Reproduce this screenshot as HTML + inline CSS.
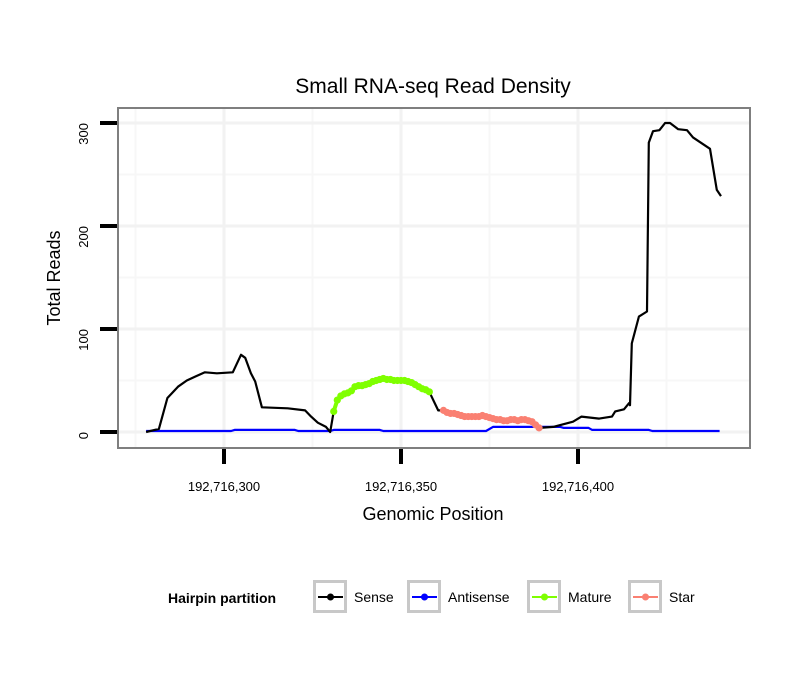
<!DOCTYPE html>
<html><head><meta charset="utf-8"><style>
body{margin:0;background:#fff;}
svg text{font-family:"Liberation Sans",sans-serif;}
</style></head><body>
<svg id="chart" width="810" height="690" xmlns="http://www.w3.org/2000/svg">
<rect width="810" height="690" fill="#fff"/>
<text x="433" y="93" text-anchor="middle" font-size="21">Small RNA-seq Read Density</text>
<g id="grid"></g>
<g id="series"></g>
<rect x="118" y="108" width="632" height="340" fill="none" stroke="#7f7f7f" stroke-width="2"/>
<g id="axes"></g>
<text x="433" y="520" text-anchor="middle" font-size="18">Genomic Position</text>
<text transform="translate(60,278) rotate(-90)" text-anchor="middle" font-size="18">Total Reads</text>
<g>
<text x="168" y="603" font-size="14" font-weight="bold">Hairpin partition</text>
<g id="legend-keys"></g>
</g>
</svg>
<script>
const senseX=[278,281.6,284,287,289.5,292,294.6,298,302.5,304.8,306,307.6,308.8,310.7,318,322.9,324.6,326.5,328.8,330,360.5,393,398.6,401,406,409.6,410.5,413,414.4,414.7,415.2,417.2,419.5,420,421.2,423,424.6,426,428.3,430.8,432.5,437.3,439.2,440.4];
const senseY=[0,3,33,44,50,54,58,57,58,75,72,57,49,24,23,21,15,9,5,0,21,5,10,15,13,15,20,22,28,26,86,112,117,281,292,293,300,300,294,293,286,275,235,229];
const matureX=[331,332,333,334,335,336,337,338,339,340,341,342,343,344,345,346,347,348,349,350,351,352,353,354,355,356,357,358];
const matureY=[20,31,35,37,38,40,44,45,45,46,47,49,50,51,52,51,51,50,50,50,50,49,48,46,44,42,41,39];
const starX=[362,363,364,365,366,367,368,369,370,371,372,373,374,375,376,377,378,379,380,381,382,383,384,385,386,387,388,389];
const starY=[21,19,18,18,17,16,15,15,15,15,15,16,15,14,13,12,12,11,11,12,12,11,12,12,11,10,7,4];
const antiX=[278,302,303,320,321,330,331,344,345,374,376,395,396,398,399,403,404,420,421,440];
const antiY=[1,1,2,2,1,1,2,2,1,1,5,5,4,4,4,4,2,2,1,1];
const xTicks=[300,350,400];
const xTickLabels=["192,716,300","192,716,350","192,716,400"];
const yTicks=[0,100,200,300];
const sx=p=>224+(p-300)*3.54;
const sy=v=>432-v*1.03;
const NS="http://www.w3.org/2000/svg";
function mk(parent,tag,attrs){const e=document.createElementNS(NS,tag);for(const k in attrs)e.setAttribute(k,attrs[k]);parent.appendChild(e);return e;}
const grid=document.getElementById('grid'),ser=document.getElementById('series'),axes=document.getElementById('axes');
[275,325,375,425].forEach(p=>{const l=mk(grid,'line',{x1:sx(p),x2:sx(p),y1:109,y2:447,stroke:'#f7f7f7','stroke-width':2});

});
[50,150,250].forEach(v=>{const l=mk(grid,'line',{x1:119,x2:749,y1:sy(v),y2:sy(v),stroke:'#f7f7f7','stroke-width':2});

});
xTicks.forEach((p,i)=>{const l=mk(grid,'line',{x1:sx(p),x2:sx(p),y1:109,y2:447,stroke:'#f2f2f2','stroke-width':3});


const t=mk(axes,'line',{x1:sx(p),x2:sx(p),y1:449,y2:464,stroke:'#000','stroke-width':4});


const tx=mk(axes,'text',{x:sx(p),y:491,'text-anchor':'middle','font-size':13});tx.textContent=xTickLabels[i];

});
yTicks.forEach(v=>{const l=mk(grid,'line',{x1:119,x2:749,y1:sy(v),y2:sy(v),stroke:'#f2f2f2','stroke-width':3});


const t=mk(axes,'line',{x1:100,x2:117,y1:sy(v),y2:sy(v),stroke:'#000','stroke-width':4});


const tx=mk(axes,'text',{transform:`translate(88,${sy(v)}) rotate(-90)`,'text-anchor':'end','font-size':13});tx.textContent=v;

});
function line(xs,ys,color,name){const d=xs.map((p,i)=>(i?'L':'M')+sx(p).toFixed(1)+','+sy(ys[i]).toFixed(1)).join('');
const e=mk(ser,'path',{d:d,fill:'none',stroke:color,'stroke-width':2.2,'stroke-linejoin':'round'});

}
function pts(xs,ys,color,name){const d=xs.map((p,i)=>(i?'L':'M')+sx(p).toFixed(1)+','+sy(ys[i]).toFixed(1)).join('');
const e=mk(ser,'path',{d:d,fill:'none',stroke:color,'stroke-width':4,'stroke-linejoin':'round'});


xs.forEach((p,i)=>{const c=mk(ser,'circle',{cx:sx(p),cy:sy(ys[i]),r:3.6,fill:color});

});}
const all=[];
senseX.forEach((p,i)=>all.push([p,senseY[i]]));
matureX.forEach((p,i)=>all.push([p,matureY[i]]));
starX.forEach((p,i)=>all.push([p,starY[i]]));
all.sort((a,b)=>a[0]-b[0]);
line(antiX,antiY,'#0000ff','antisense-line');
line(all.map(a=>a[0]),all.map(a=>a[1]),'#000','sense-line');
pts(matureX,matureY,'#7fff00','mature');
pts(starX,starY,'#fa8072','star');
const lk=document.getElementById('legend-keys');
const keys=[[313,'#000','Sense'],[407,'#0000ff','Antisense'],[527,'#7fff00','Mature'],[628,'#fa8072','Star']];
keys.forEach(k=>{const g=mk(lk,'g',{});


mk(g,'rect',{x:k[0]+1.5,y:581.5,width:31,height:30,fill:'#fff',stroke:'#c8c8c8','stroke-width':3});
mk(g,'line',{x1:k[0]+5,x2:k[0]+30,y1:597,y2:597,stroke:k[1],'stroke-width':2});
mk(g,'circle',{cx:k[0]+17.5,cy:597,r:3.5,fill:k[1]});
const t=mk(g,'text',{x:k[0]+41,y:602,'font-size':14});t.textContent=k[2];});
</script>
</body></html>
